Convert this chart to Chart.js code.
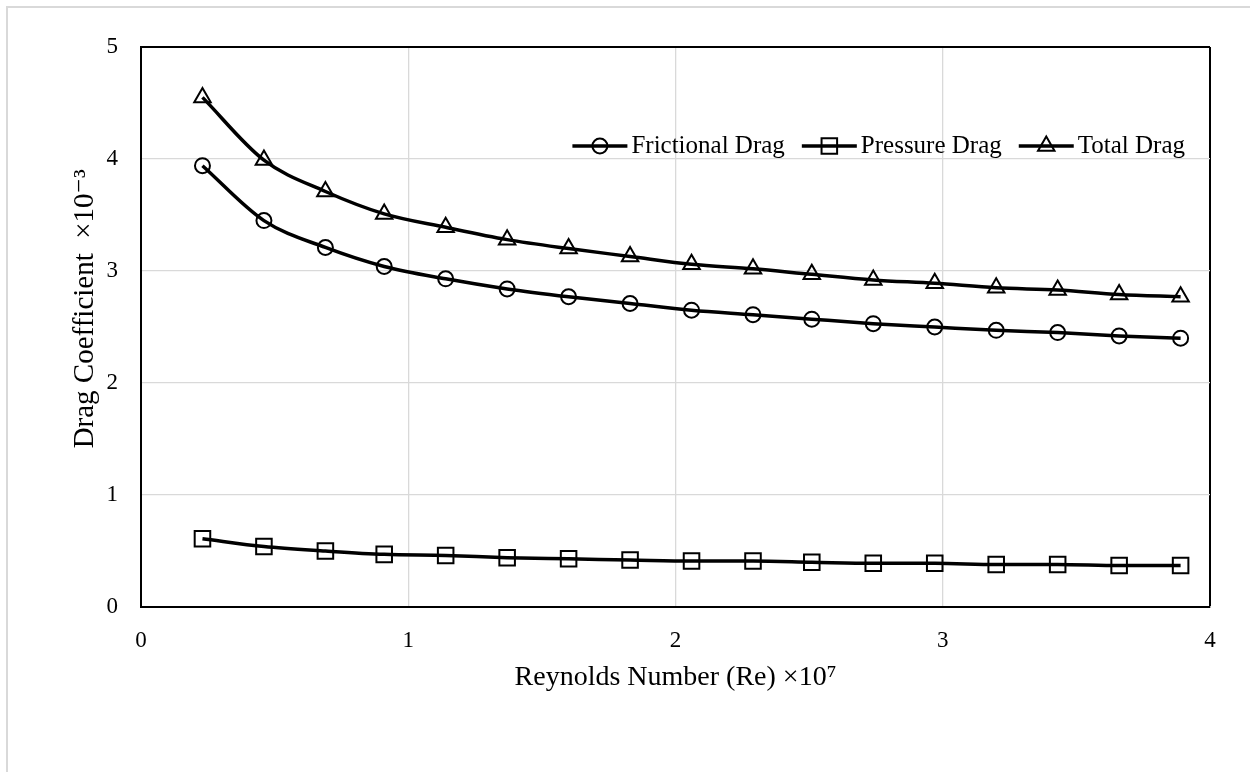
<!DOCTYPE html>
<html>
<head>
<meta charset="utf-8">
<script src="https://cdn.jsdelivr.net/npm/chart.js@4.4.1/dist/chart.umd.min.js"></script>
<style>
  body { margin: 0; background: #fff; }
  #frame { position: absolute; left: 6px; top: 6px; width: 1300px; height: 800px;
           border-left: 2px solid #d9d9d9; border-top: 2px solid #d9d9d9; }
  #c { position: absolute; left: 0; top: 0; }
</style>
</head>
<body>
<div id="frame"></div>
<canvas id="c" width="1250" height="772"></canvas>
<script>
const reynolds = [0.23, 0.46, 0.69, 0.91, 1.14, 1.37, 1.60, 1.83, 2.06, 2.29, 2.51, 2.74, 2.97, 3.20, 3.43, 3.66, 3.89];
const frictional = [3.94, 3.45, 3.21, 3.04, 2.93, 2.84, 2.77, 2.71, 2.65, 2.61, 2.57, 2.53, 2.50, 2.47, 2.45, 2.42, 2.40];
const pressure = [0.61, 0.54, 0.50, 0.47, 0.46, 0.44, 0.43, 0.42, 0.41, 0.41, 0.40, 0.39, 0.39, 0.38, 0.38, 0.37, 0.37];
const total = [4.55, 3.99, 3.71, 3.51, 3.39, 3.28, 3.20, 3.13, 3.06, 3.02, 2.97, 2.92, 2.89, 2.85, 2.83, 2.79, 2.77];
const seriesNames = ["Frictional Drag", "Pressure Drag", "Total Drag"];

const FONT = "'Liberation Serif', 'DejaVu Serif', serif";
const GRID = "#d9d9d9";

function series(label, ys, style, radius) {
  return {
    label: label,
    data: reynolds.map((x, i) => ({ x: x, y: ys[i] })),
    showLine: true,
    borderColor: "#000",
    borderWidth: 3.5,
    cubicInterpolationMode: "monotone",
    pointStyle: style,
    pointRadius: radius,
    pointBorderWidth: 2,
    pointBorderColor: "#000",
    pointBackgroundColor: "rgba(0,0,0,0)"
  };
}

// legend drawn inside the plot: line + marker, then the label
const insideLegend = {
  id: "insideLegend",
  afterDraw(chart) {
    const ctx = chart.ctx;
    const area = chart.chartArea;
    const y = area.top + 99;
    ctx.save();
    ctx.font = "25px " + FONT;
    ctx.textBaseline = "middle";
    let right = area.right - 25;
    const items = chart.data.datasets.map((d, i) => ({ d: d, text: seriesNames[i] })).reverse();
    items.forEach(it => {
      const tw = ctx.measureText(it.text).width;
      const tx = right - tw;
      ctx.fillStyle = "#000";
      ctx.fillText(it.text, tx, y);
      const x1 = tx - 4, x0 = x1 - 55;
      ctx.strokeStyle = "#000";
      ctx.lineWidth = 3.5;
      ctx.beginPath();
      ctx.moveTo(x0, y);
      ctx.lineTo(x1, y);
      ctx.stroke();
      ctx.lineWidth = 2;
      ctx.fillStyle = "rgba(0,0,0,0)";
      Chart.helpers.drawPoint(ctx, { pointStyle: it.d.pointStyle, radius: it.d.pointRadius, borderWidth: 2, rotation: 0 }, (x0 + x1) / 2, y);
      right = x0 - 17;
    });
    ctx.restore();
  }
};

new Chart(document.getElementById("c"), {
  type: "scatter",
  data: {
    datasets: [
      series(seriesNames[0], frictional, "circle", 7.5),
      series(seriesNames[1], pressure, "rect", 11),
      series(seriesNames[2], total, "triangle", 9.5)
    ]
  },
  options: {
    responsive: false,
    animation: false,
    devicePixelRatio: 1,
    layout: { padding: { top: 47, right: 40, left: 0, bottom: 0 } },
    plugins: { legend: { display: false }, tooltip: { enabled: false } },
    scales: {
      x: {
        type: "linear",
        min: 0, max: 4,
        afterFit(s) { s.height = 165; },
        ticks: { stepSize: 1, padding: 20, color: "#000", font: { family: FONT, size: 23 } },
        grid: {
          drawTicks: false,
          color: c => (c.tick && c.tick.value === 4 ? "#000" : GRID),
          lineWidth: c => (c.tick && c.tick.value === 4 ? 2 : 1.3)
        },
        border: { color: "#000", width: 2 },
        title: {
          display: true,
          text: "Reynolds Number (Re) \u00d710\u2077",
          color: "#000",
          font: { family: FONT, size: 28 },
          padding: { top: 0, bottom: 78 }
        }
      },
      y: {
        min: 0, max: 5,
        afterFit(s) { s.width = 141; },
        ticks: { stepSize: 1, padding: 23, color: "#000", font: { family: FONT, size: 23 } },
        grid: {
          drawTicks: false,
          color: c => (c.tick && c.tick.value === 5 ? "#000" : GRID),
          lineWidth: c => (c.tick && c.tick.value === 5 ? 2 : 1.3)
        },
        border: { color: "#000", width: 2 },
        title: {
          display: true,
          text: "     Drag Coefficient  \u00d710\u207b\u00b3",
          color: "#000",
          font: { family: FONT, size: 29 },
          padding: { top: 68, bottom: 0 }
        }
      }
    }
  },
  plugins: [insideLegend]
});
</script>
</body>
</html>
